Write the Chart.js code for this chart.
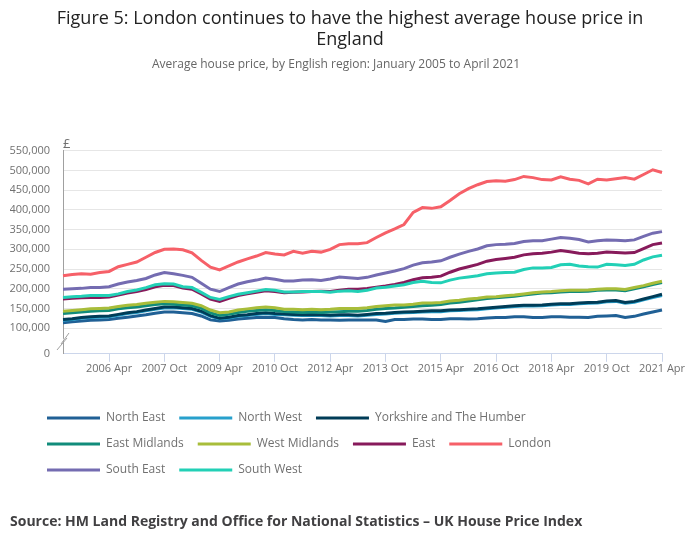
<!DOCTYPE html>
<html>
<head>
<meta charset="utf-8">
<title>Figure 5: Average house price by English region</title>
<script src="https://cdn.jsdelivr.net/npm/chart.js@4.4.1/dist/chart.umd.min.js"></script>
<style>
  html, body { margin: 0; padding: 0; background: #fff; }
  #wrap { position: relative; width: 700px; height: 549px; }
  #source {
    position: absolute; left: 10px; top: 511px;
    font: bold 14px "Open Sans", sans-serif; color: #414042;
    white-space: nowrap;
  }
</style>
</head>
<body>
<div id="wrap">
  <canvas id="chart" width="700" height="549"></canvas>
  <div id="source">Source: HM Land Registry and Office for National Statistics – UK House Price Index</div>
</div>
<script>
// quarterly readings, £ thousands
var quarters = [
  '2005 Jan', '2005 Apr', '2005 Jul', '2005 Oct', '2006 Jan', '2006 Apr', '2006 Jul', '2006 Oct',
  '2007 Jan', '2007 Apr', '2007 Jul', '2007 Oct', '2008 Jan', '2008 Apr', '2008 Jul', '2008 Oct',
  '2009 Jan', '2009 Apr', '2009 Jul', '2009 Oct', '2010 Jan', '2010 Apr', '2010 Jul', '2010 Oct',
  '2011 Jan', '2011 Apr', '2011 Jul', '2011 Oct', '2012 Jan', '2012 Apr', '2012 Jul', '2012 Oct',
  '2013 Jan', '2013 Apr', '2013 Jul', '2013 Oct', '2014 Jan', '2014 Apr', '2014 Jul', '2014 Oct',
  '2015 Jan', '2015 Apr', '2015 Jul', '2015 Oct', '2016 Jan', '2016 Apr', '2016 Jul', '2016 Oct',
  '2017 Jan', '2017 Apr', '2017 Jul', '2017 Oct', '2018 Jan', '2018 Apr', '2018 Jul', '2018 Oct',
  '2019 Jan', '2019 Apr', '2019 Jul', '2019 Oct', '2020 Jan', '2020 Apr', '2020 Jul', '2020 Oct',
  '2021 Jan', '2021 Apr'
];
var tickLabels = ['2006 Apr', '2007 Oct', '2009 Apr', '2010 Oct', '2012 Apr', '2013 Oct',
                  '2015 Apr', '2016 Oct', '2018 Apr', '2019 Oct', '2021 Apr'];

var northEast = [
  114, 116, 118, 120,  121, 122, 125, 128,  131, 134, 138, 141,  141, 139, 137, 131,
  121, 118, 120, 123,  125, 127, 128, 127,  124, 122, 121, 122,  121, 121, 120, 121,
  121, 121, 121, 117,  122, 122, 123, 123,  122, 122, 124, 124,  123, 124, 126, 127,
  127, 129, 129, 127,  127, 129, 129, 128,  128, 127, 130, 131,  132, 127, 130, 136,
  141, 146
];
var northWest = [
  120, 122, 125, 127,  128, 129, 133, 137,  140, 144, 148, 151,  152, 150, 148, 141,
  130, 124, 126, 130,  132, 135, 137, 135,  134, 133, 132, 133,  132, 131, 132, 132,
  131, 133, 135, 136,  138, 139, 140, 141,  142, 142, 144, 145,  146, 147, 149, 151,
  153, 155, 156, 156,  157, 159, 160, 160,  162, 163, 164, 167,  168, 163, 166, 172,
  178, 183
];
var yorkshire = [
  122, 124, 127, 129,  130, 131, 135, 139,  142, 146, 150, 154,  154, 152, 150, 143,
  132, 125, 128, 132,  134, 137, 139, 137,  136, 135, 134, 135,  134, 133, 134, 134,
  133, 135, 137, 138,  140, 141, 142, 143,  144, 144, 146, 147,  148, 149, 151, 153,
  155, 157, 158, 158,  159, 161, 162, 162,  164, 165, 166, 169,  170, 165, 168, 174,
  180, 186
];
var eastMidlands = [
  137, 139, 141, 143,  144, 145, 149, 152,  154, 157, 160, 162,  161, 159, 157, 151,
  139, 132, 135, 140,  143, 145, 147, 145,  142, 141, 140, 141,  140, 141, 142, 143,
  143, 145, 148, 150,  151, 153, 155, 157,  158, 160, 164, 166,  169, 172, 175, 177,
  179, 181, 184, 187,  189, 190, 192, 193,  193, 194, 196, 197,  197, 195, 200, 205,
  211, 216
];
var westMidlands = [
  143, 145, 147, 149,  150, 151, 155, 158,  160, 163, 166, 168,  167, 165, 163, 157,
  146, 139, 141, 146,  149, 152, 154, 152,  148, 148, 147, 148,  147, 148, 150, 150,
  150, 152, 155, 157,  159, 159, 161, 164,  164, 165, 169, 171,  174, 176, 179, 180,
  182, 184, 187, 190,  192, 193, 195, 196,  196, 197, 199, 200,  200, 198, 203, 208,
  214, 219
];
var east = [
  174, 176, 177, 178,  178, 179, 184, 189,  193, 198, 205, 209,  208, 202, 199, 187,
  174, 168, 176, 183,  187, 191, 195, 193,  190, 191, 192, 193,  194, 193, 196, 199,
  199, 201, 204, 207,  211, 216, 223, 228,  229, 232, 242, 250,  256, 262, 270, 274,
  277, 280, 286, 289,  290, 293, 297, 294,  290, 289, 290, 293,  292, 291, 292, 302,
  312, 316
];
var london = [
  233, 236, 238, 237,  241, 244, 256, 262,  268, 280, 292, 300,  301, 299, 291, 272,
  255, 248, 258, 268,  276, 283, 292, 288,  286, 295, 290, 295,  293, 300, 312, 314,
  314, 317, 330, 342,  352, 363, 394, 406,  404, 408, 424, 441,  454, 464, 472, 474,
  473, 477, 485, 482,  477, 476, 484, 478,  475, 466, 478, 476,  479, 482, 478, 490,
  502, 495
];
var southEast = [
  199, 200, 201, 203,  203, 205, 212, 217,  221, 226, 235, 241,  238, 234, 229, 214,
  199, 193, 203, 212,  218, 222, 227, 224,  220, 220, 222, 223,  221, 225, 230, 228,
  226, 229, 235, 240,  245, 251, 260, 266,  268, 271, 280, 288,  295, 301, 309, 312,
  313, 315, 320, 322,  322, 326, 330, 328,  325, 319, 322, 324,  323, 322, 324, 333,
  341, 345
];
var southWest = [
  178, 180, 181, 183,  183, 183, 187, 193,  197, 203, 210, 213,  212, 205, 203, 191,
  178, 173, 180, 186,  190, 194, 198, 196,  192, 192, 193, 193,  193, 191, 194, 195,
  193, 196, 202, 204,  207, 210, 216, 219,  216, 215, 222, 227,  230, 233, 238, 240,
  241, 242, 249, 253,  253, 254, 261, 262,  258, 256, 255, 262,  261, 259, 262, 273,
  281, 285
];

var regionNames = ['North East', 'North West', 'Yorkshire and The Humber', 'East Midlands',
                   'West Midlands', 'East', 'London', 'South East', 'South West'];
var regionValues = [northEast, northWest, yorkshire, eastMidlands, westMidlands,
                    east, london, southEast, southWest];
var regionColours = ['#206095', '#27a0cc', '#003c57', '#118c7b', '#a8bd3a',
                     '#871a5b', '#f66068', '#746cb1', '#22d0b6'];

var yTickValues = [100, 150, 200, 250, 300, 350, 400, 450, 500, 550];
var axisBase = 35; // where the broken axis shows "0"

Chart.defaults.font.family = "'Open Sans', sans-serif";
Chart.defaults.color = '#707070';

var datasets = regionNames.map(function(name, i) {
    return {
        label: name,
        data: regionValues[i],
        borderColor: regionColours[i],
        backgroundColor: regionColours[i],
        borderWidth: 3,
        pointRadius: 0,
        tension: 0,
        fill: false,
        order: regionNames.length - i // later series on top, like the original
    };
});

// break marks on the y axis and the £ unit label
var axisExtras = {
    id: 'axisExtras',
    afterDraw: function(chart) {
        var ctx = chart.ctx, area = chart.chartArea, y = chart.scales.y;
        var x = area.left;
        var mid = (y.getPixelForValue(100) + y.getPixelForValue(axisBase)) / 2;
        ctx.save();
        ctx.fillStyle = '#fff';
        ctx.beginPath();
        ctx.moveTo(x - 7, mid + 9);
        ctx.lineTo(x + 4, mid - 5);
        ctx.lineTo(x + 6, mid - 9);
        ctx.lineTo(x - 5, mid + 5);
        ctx.closePath();
        ctx.fill();
        ctx.strokeStyle = '#a0a0a0';
        ctx.lineWidth = 1;
        [[-6, 9, 4, -3], [-2, 3, 6, -8]].forEach(function(s) {
            ctx.beginPath();
            ctx.moveTo(x + s[0], mid + s[1]);
            ctx.lineTo(x + s[2], mid + s[3]);
            ctx.stroke();
        });
        ctx.fillStyle = '#707070';
        ctx.font = "13px 'Open Sans', sans-serif";
        ctx.textAlign = 'left';
        ctx.textBaseline = 'middle';
        ctx.fillText('£', x, area.top - 7);
        ctx.restore();
    }
};

// titles centred on the whole canvas; legend left-aligned under the axis
var placeBoxes = {
    id: 'placeBoxes',
    afterLayout: function(chart) {
        [chart.titleBlock, chart.$subtitle].forEach(function(b) {
            if (b) { b.left = 0; b.right = chart.width; b.width = chart.width; }
        });
        var lg = chart.legend;
        var w = lg.width, h = lg.height;
        lg.left = 33;
        lg.top = chart.scales.x.bottom + 23;
        lg.right = lg.left + w;
        lg.bottom = lg.top + h;
    }
};

new Chart(document.getElementById('chart'), {
    type: 'line',
    data: { labels: quarters, datasets: datasets },
    plugins: [axisExtras, placeBoxes],
    options: {
        responsive: false,
        animation: false,
        layout: { padding: { left: 10, right: 38, top: 0, bottom: 86 } },
        plugins: {
            title: {
                display: true,
                text: ['Figure 5: London continues to have the highest average house price in', 'England'],
                font: { size: 18, weight: 'normal', lineHeight: 1.17 },
                color: '#222222',
                padding: { top: 8, bottom: 6 }
            },
            subtitle: {
                display: true,
                text: 'Average house price, by English region: January 2005 to April 2021',
                font: { size: 12, lineHeight: 1.2 },
                color: '#666666',
                padding: { top: 1.3, bottom: 79 }
            },
            legend: {
                position: 'bottom',
                align: 'start',
                fullSize: false,
                labels: {
                    usePointStyle: true,
                    pointStyle: 'line',
                    pointStyleWidth: 53,
                    padding: 14,
                    color: '#707070',
                    font: { size: 12 },
                    sort: function(a, b) { return a.datasetIndex - b.datasetIndex; }
                }
            },
            tooltip: { enabled: false }
        },
        scales: {
            x: {
                offset: false,
                grid: {
                    display: true,
                    drawOnChartArea: false,
                    drawTicks: true,
                    tickLength: 8,
                    color: '#ccd6eb'
                },
                border: { color: '#ccd6eb' },
                afterBuildTicks: function(scale) {
                    scale.ticks = scale.ticks.filter(function(t) {
                        return tickLabels.indexOf(quarters[t.value]) !== -1;
                    });
                },
                ticks: {
                    autoSkip: false,
                    maxRotation: 0,
                    padding: 0,
                    color: '#707070',
                    font: { size: 11 },
                    callback: function(value) { return quarters[value]; }
                }
            },
            y: {
                min: axisBase,
                max: 550,
                afterBuildTicks: function(scale) {
                    scale.ticks = [{ value: axisBase }].concat(yTickValues.map(function(v) { return { value: v }; }));
                },
                afterFit: function(scale) { scale.width = 53; },
                grid: {
                    drawTicks: false,
                    color: function(c) { return c.tick && c.tick.value === axisBase ? 'rgba(0,0,0,0)' : '#e6e6e6'; }
                },
                border: { color: '#a0a0a0' },
                ticks: {
                    padding: 13,
                    color: '#707070',
                    font: { size: 11 },
                    callback: function(value) {
                        return value === axisBase ? '0' : (value * 1000).toLocaleString('en-GB');
                    }
                }
            }
        }
    }
});
</script>
</body>
</html>
